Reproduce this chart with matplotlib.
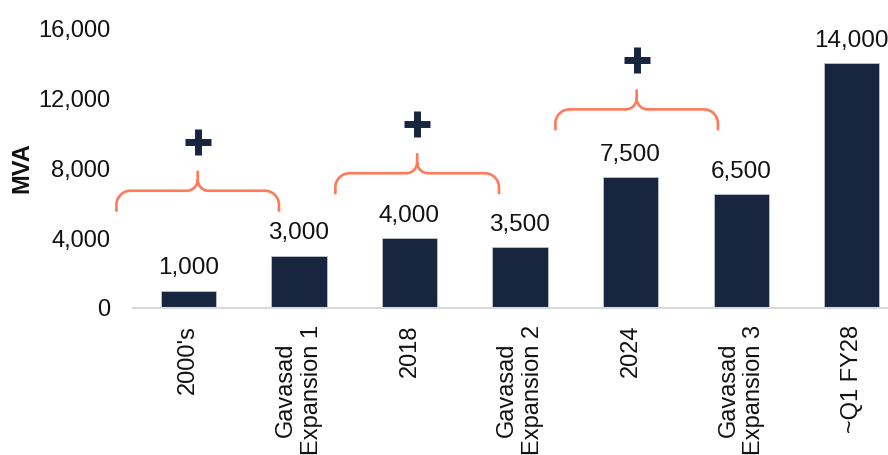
import matplotlib.pyplot as plt
from matplotlib.path import Path
from matplotlib.patches import PathPatch

plt.rcParams["font.family"] = ["Liberation Sans", "DejaVu Sans"]

categories = ["2000's", "Gavasad\nExpansion 1", "2018", "Gavasad\nExpansion 2",
              "2024", "Gavasad\nExpansion 3", "~Q1 FY28"]
mva = [1000, 3000, 4000, 3500, 7500, 6500, 14000]
y_ticks = [0, 4000, 8000, 12000, 16000]

NAVY = "#17253F"
ORANGE = "#FF7A5A"

# braces grouping each year with its expansion: (left, right, foot height)
braces = [(-0.65, 0.82, 5500), (1.33, 2.81, 6500), (3.32, 4.79, 10150)]

fig = plt.figure(figsize=(8.88, 4.55), dpi=100)
ax = fig.add_axes([133 / 888, 1 - 308 / 455, 774 / 888, 280 / 455])

x = range(len(categories))
ax.bar(x, mva, width=0.5, color=NAVY, edgecolor="#c8ccd4", linewidth=0.5, zorder=2)

for xi, v in zip(x, mva):
    ax.annotate(f"{v:,}", (xi, v), xytext=(0, 8), textcoords="offset points",
                ha="center", va="bottom", fontsize=17.5, color="#111111",
                annotation_clip=False)

ax.set_xlim(-0.5, 6.5)
ax.set_ylim(0, 16000)
ax.set_yticks(y_ticks)
ax.set_yticklabels([f"{t:,}" for t in y_ticks])
ax.set_xticks(list(x))
ax.set_xticklabels(categories, rotation=90, multialignment="center")
ax.tick_params(axis="y", length=0, pad=16.5, labelsize=17, labelcolor="#111111")
ax.tick_params(axis="x", length=0, pad=12, labelsize=17, labelcolor="#111111")

for side in ["top", "right", "left"]:
    ax.spines[side].set_visible(False)
ax.spines["bottom"].set_color("#D9D9D9")
ax.spines["bottom"].set_linewidth(1.5)

fig.text(22 / 888, 1 - 168 / 455, "MVA", rotation=90, ha="center", va="center",
         fontsize=17, fontweight="bold", color="#111111")


def draw_brace(x0, x1, y0):
    # curly brace opening downward, sized in pixels and converted to data units
    ux = 7 / 774   # data units per pixel in x
    uy = 16000 / 280
    xm = (x0 + x1) / 2
    yh = y0 + 21 * uy
    yt = yh + 20 * uy
    rx, ry = 14 * ux, 14 * uy
    tx, ty = 11 * ux, 11 * uy
    verts = [
        (x0, y0), (x0, yh - ry),
        (x0, yh - ry * 0.45), (x0 + rx * 0.45, yh), (x0 + rx, yh),
        (xm - tx, yh),
        (xm - tx * 0.45, yh), (xm, yh + ty * 0.45), (xm, yh + ty),
        (xm, yt),
        (xm, yh + ty),
        (xm, yh + ty * 0.45), (xm + tx * 0.45, yh), (xm + tx, yh),
        (x1 - rx, yh),
        (x1 - rx * 0.45, yh), (x1, yh - ry * 0.45), (x1, yh - ry),
        (x1, y0),
    ]
    codes = [Path.MOVETO, Path.LINETO,
             Path.CURVE4, Path.CURVE4, Path.CURVE4,
             Path.LINETO,
             Path.CURVE4, Path.CURVE4, Path.CURVE4,
             Path.LINETO,
             Path.MOVETO,
             Path.CURVE4, Path.CURVE4, Path.CURVE4,
             Path.LINETO,
             Path.CURVE4, Path.CURVE4, Path.CURVE4,
             Path.LINETO]
    ax.add_patch(PathPatch(Path(verts, codes), fill=False, edgecolor=ORANGE,
                           linewidth=1.9, capstyle="butt", clip_on=False))
    ax.plot([xm], [yt + 29 * uy], marker="+", markersize=19, mew=5,
            color=NAVY, clip_on=False)


for x0, x1, y0 in braces:
    draw_brace(x0, x1, y0)

plt.savefig("out.png", dpi=100)
